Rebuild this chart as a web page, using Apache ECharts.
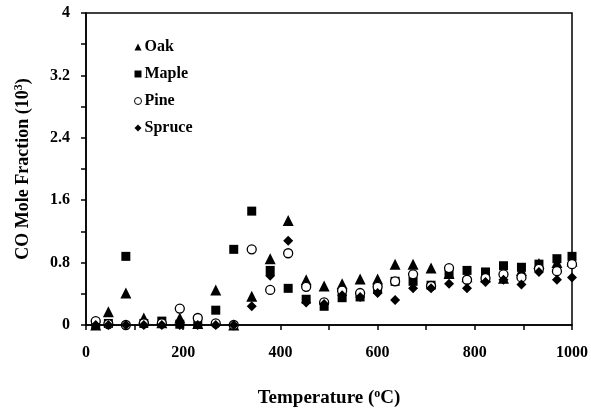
<!DOCTYPE html>
<html>
<head>
<meta charset="utf-8">
<script src="https://cdn.jsdelivr.net/npm/echarts@6/dist/echarts.min.js"></script>
<style>
html,body{margin:0;padding:0;background:#fff;}
#chart{width:591px;height:410px;}
</style>
</head>
<body>
<div id="chart"></div>
<script>
var temps = [20, 46, 82, 119, 156, 193, 230, 267, 304, 341, 379, 416, 453, 490, 527, 564, 600, 636, 673, 710, 747, 784, 822, 859, 896, 932, 969, 1000];
var oak    = [0, 0.17, 0.41, 0.09, 0.03, 0.09, 0.02, 0.45, 0, 0.37, 0.85, 1.34, 0.58, 0.50, 0.53, 0.59, 0.59, 0.78, 0.78, 0.73, 0.66, 0.62, 0.62, 0.60, 0.70, 0.79, 0.80, 0.82];
var maple  = [0, 0.02, 0.88, 0.02, 0.05, 0.01, 0.02, 0.19, 0.97, 1.46, 0.70, 0.47, 0.33, 0.24, 0.35, 0.36, 0.46, 0.56, 0.56, 0.51, 0.65, 0.70, 0.68, 0.76, 0.74, 0.78, 0.85, 0.88];
var pine   = [0.05, 0.01, 0, 0.02, 0.02, 0.21, 0.09, 0.02, 0, 0.97, 0.45, 0.92, 0.49, 0.29, 0.44, 0.41, 0.49, 0.56, 0.65, 0.50, 0.73, 0.58, 0.60, 0.65, 0.61, 0.72, 0.69, 0.78];
var spruce = [0, 0, 0, 0, 0, 0, 0, 0, 0, 0.24, 0.63, 1.08, 0.29, 0.27, 0.38, 0.36, 0.41, 0.32, 0.47, 0.47, 0.53, 0.47, 0.55, 0.58, 0.52, 0.68, 0.58, 0.61];
var seriesNames = ['Oak', 'Maple', 'Pine', 'Spruce'];
var xTickLabels = ['0', '200', '400', '600', '800', '1000'];
var yTickLabels = ['0', '0.8', '1.6', '2.4', '3.2', '4'];

function pairs(ys) { return temps.map(function (t, i) { return [t, ys[i]]; }); }

var FONT = 'Liberation Serif';
var chart = echarts.init(document.getElementById('chart'), null, {renderer: 'canvas'});
var base = {type: 'scatter', z: 3};
chart.setOption({
  animation: false,
  backgroundColor: '#fff',
  grid: {left: 86, right: 19, top: 13, bottom: 85, containLabel: false, outerBoundsMode: 'none',
         show: true, borderColor: '#000', borderWidth: 1.5},
  legend: {
    orient: 'vertical', left: 129, top: 34, itemWidth: 7, itemHeight: 7, itemGap: 11,
    data: [
      {name: seriesNames[0]},
      {name: seriesNames[1]},
      {name: seriesNames[2], itemStyle: {borderWidth: 1}},
      {name: seriesNames[3]}
    ],
    textStyle: {fontFamily: FONT, fontWeight: 'bold', fontSize: 16, color: '#000', padding: [0, 0, 0, -2]}
  },
  xAxis: {
    type: 'value', min: 0, max: 1000, interval: 100,
    axisLine: {show: true, lineStyle: {color: '#000', width: 1.5}},
    axisTick: {show: true, inside: false, length: 5, lineStyle: {color: '#000', width: 1.5}},
    splitLine: {show: false},
    axisLabel: {
      margin: 20, color: '#000', fontFamily: FONT, fontWeight: 'bold', fontSize: 16,
      formatter: function (v) { return v % 200 === 0 ? xTickLabels[v / 200] : ''; }
    },
    name: '{a|Temperature (}{s|o}{a|C)}',
    nameLocation: 'middle', nameGap: 63,
    nameTextStyle: {
      rich: {
        a: {fontFamily: FONT, fontWeight: 'bold', fontSize: 19, color: '#000'},
        s: {fontFamily: FONT, fontWeight: 'bold', fontSize: 12, color: '#000', verticalAlign: 'top', padding: [0, 0, 9, 0]}
      }
    }
  },
  yAxis: {
    type: 'value', min: 0, max: 4, interval: 0.4,
    axisLine: {show: true, lineStyle: {color: '#000', width: 1.5}},
    axisTick: {show: true, inside: false, length: 5, lineStyle: {color: '#000', width: 1.5}},
    splitLine: {show: false},
    axisLabel: {
      margin: 16, color: '#000', fontFamily: FONT, fontWeight: 'bold', fontSize: 16,
      formatter: function (v) { var k = Math.round(v / 0.4); return k % 2 === 0 ? yTickLabels[k / 2] : ''; }
    },
    name: '{a|CO Mole Fraction (10}{s|3}{a|)}',
    nameLocation: 'middle', nameGap: 52, nameRotate: 90,
    nameTextStyle: {
      rich: {
        a: {fontFamily: FONT, fontWeight: 'bold', fontSize: 18, color: '#000'},
        s: {fontFamily: FONT, fontWeight: 'bold', fontSize: 12, color: '#000', verticalAlign: 'top', padding: [0, 0, 9, 0]}
      }
    }
  },
  series: [
    Object.assign({}, base, {name: seriesNames[0], data: pairs(oak), symbol: 'triangle', symbolSize: 11, itemStyle: {color: '#000', opacity: 1}}),
    Object.assign({}, base, {name: seriesNames[1], data: pairs(maple), symbol: 'rect', symbolSize: 9, itemStyle: {color: '#000', opacity: 1}}),
    Object.assign({}, base, {name: seriesNames[2], data: pairs(pine), symbol: 'circle', symbolSize: 9, itemStyle: {color: '#fff', borderColor: '#000', borderWidth: 1.3, opacity: 1}}),
    Object.assign({}, base, {name: seriesNames[3], data: pairs(spruce), symbol: 'diamond', symbolSize: 10, itemStyle: {color: '#000', opacity: 1}})
  ]
});
</script>
</body>
</html>
